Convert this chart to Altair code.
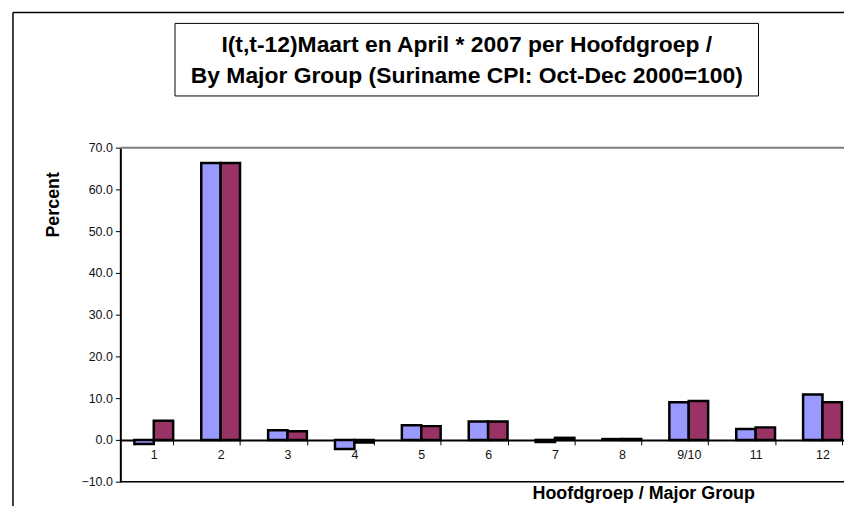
import altair as alt
import pandas as pd

groups = ["1", "2", "3", "4", "5", "6", "7", "8", "9/10", "11", "12"]
maart = [-1.0, 66.3, 2.3, -2.2, 3.5, 4.4, -0.5, 0.2, 9.0, 2.6, 10.9]
april = [4.6, 66.3, 2.1, -0.6, 3.3, 4.4, 0.5, 0.2, 9.3, 3.0, 9.0]
series_names = ["Maart", "April"]
series_colors = ["#9999FF", "#993366"]
title_lines = ["I(t,t-12)Maart en April * 2007 per Hoofdgroep /",
               "By Major Group (Suriname CPI: Oct-Dec 2000=100)"]
y_ticks = [-10, 0, 10, 20, 30, 40, 50, 60, 70]

rows = []
for g, m, a in zip(groups, maart, april):
    rows.append({"group": g, "series": "Maart", "value": m})
    rows.append({"group": g, "series": "April", "value": a})
df = pd.DataFrame(rows)

FONT = "Liberation Sans"
W, H = 728, 336

yscale = alt.Scale(domain=[-10, 70], nice=False, zero=False)

bars = alt.Chart(df).mark_bar(stroke="black", strokeWidth=2.5).encode(
    x=alt.X("group:N", sort=groups,
            scale=alt.Scale(range=[0, 740], paddingInner=0.42, paddingOuter=0.21),
            axis=alt.Axis(labelAngle=0, tickBand="extent", tickSize=5, tickColor="black",
                          tickWidth=1, domainColor="black", domainWidth=2, offset=-42,
                          labelFontSize=12.5, labelColor="#111", labelPadding=4,
                          title="Hoofdgroep / Major Group", titleFontSize=18,
                          titleFontWeight="bold", titleColor="black",
                          titleX=526, titleY=54, titleAlign="center",
                          titleBaseline="middle")),
    xOffset=alt.XOffset("series:N", sort=series_names),
    y=alt.Y("value:Q", scale=yscale,
            axis=alt.Axis(values=y_ticks, format=".1f", tickSize=5, tickColor="black",
                          domainColor="black", domainWidth=2, labelFontSize=12.5,
                          labelColor="#111", labelPadding=3, grid=False,
                          title="Percent", titleFontSize=18, titleFontWeight="bold",
                          titleColor="black", titleX=-67, titleY=57,
                          titleAlign="center", titleBaseline="middle")),
    color=alt.Color("series:N", sort=series_names,
                    scale=alt.Scale(domain=series_names, range=series_colors),
                    legend=None),
)

top_line = alt.Chart(pd.DataFrame({"v": [70]})).mark_rule(
    color="#808080", strokeWidth=2).encode(
    y=alt.Y("v:Q", scale=yscale), x=alt.value(0), x2=alt.value(740))

bottom_line = alt.Chart(pd.DataFrame({"v": [-10]})).mark_rule(
    color="black", strokeWidth=1.5).encode(
    y=alt.Y("v:Q", scale=yscale), x=alt.value(0), x2=alt.value(740))

one = pd.DataFrame({"k": [0]})
border_left = alt.Chart(one).mark_rule(color="black", strokeWidth=1.5).encode(
    x=alt.value(-108), y=alt.value(-136), y2=alt.value(420))
border_top = alt.Chart(one).mark_rule(color="black", strokeWidth=1.5).encode(
    x=alt.value(-108), x2=alt.value(760), y=alt.value(-136))

title_box = alt.Chart(one).mark_rect(fill="white", stroke="black", strokeWidth=1).encode(
    x=alt.value(55), x2=alt.value(642), y=alt.value(-125), y2=alt.value(-52))

t1 = alt.Chart(pd.DataFrame({"t": [title_lines[0]]})).mark_text(
    font=FONT, fontSize=23, fontWeight="bold", color="black",
    align="center", baseline="alphabetic").encode(
    text="t:N", x=alt.value(348.5), y=alt.value(-96))
t2 = alt.Chart(pd.DataFrame({"t": [title_lines[1]]})).mark_text(
    font=FONT, fontSize=23, fontWeight="bold", color="black",
    align="center", baseline="alphabetic").encode(
    text="t:N", x=alt.value(348.5), y=alt.value(-65))

chart = alt.layer(
    border_left, border_top, title_box, t1, t2, top_line, bottom_line, bars
).properties(
    width=W, height=H,
    padding={"left": 113, "top": 139, "right": 0, "bottom": 23},
    autosize=alt.AutoSizeParams(type="none"),
    background="white",
).configure_view(stroke=None).configure(font=FONT)

chart.save("out.html", embed_options={"renderer": "svg", "actions": False})
